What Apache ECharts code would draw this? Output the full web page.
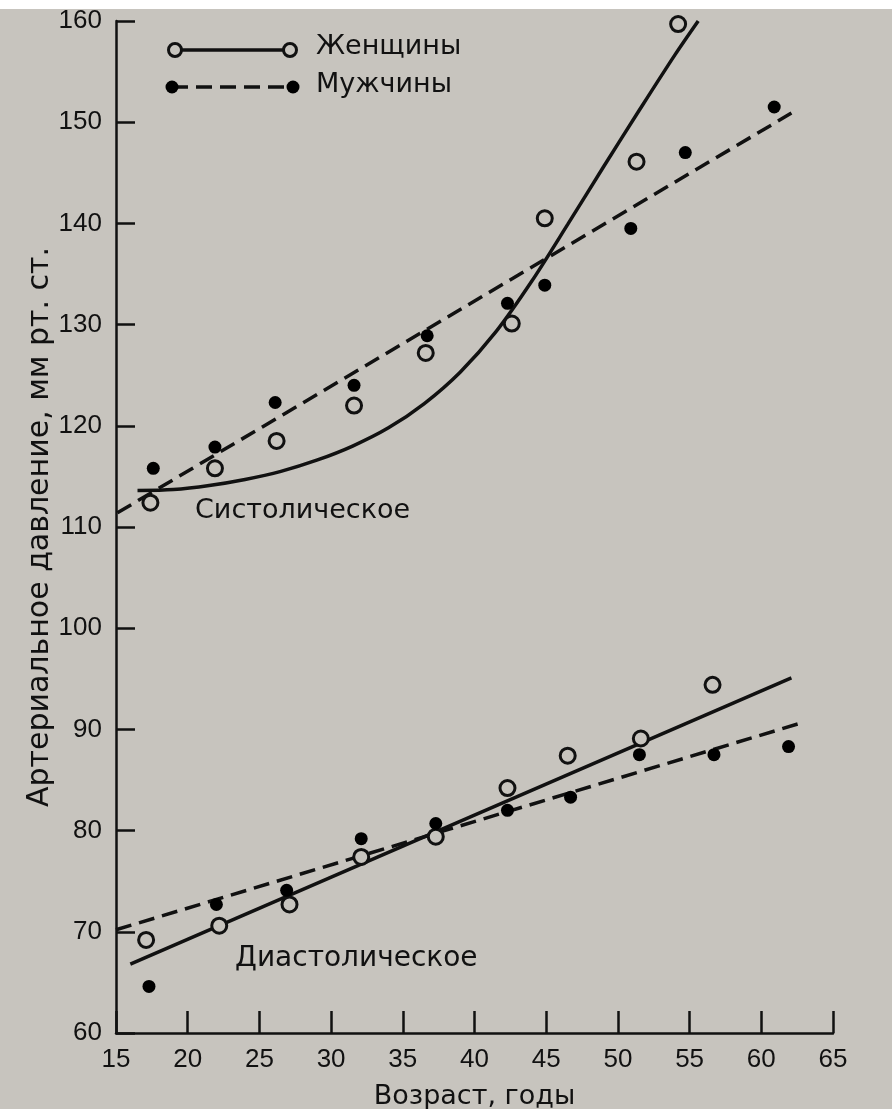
<!DOCTYPE html>
<html>
<head>
<meta charset="utf-8">
<script src="https://cdn.jsdelivr.net/npm/echarts@6/dist/echarts.min.js"></script>
<style>
html,body{margin:0;padding:0;background:#c7c4be;}
#chart{width:892px;height:1109px;}
</style>
</head>
<body>
<div id="chart"></div>
<script>
// ---- data ----
const xTicks = [15, 20, 25, 30, 35, 40, 45, 50, 55, 60, 65];
const yTicks = [60, 70, 80, 90, 100, 110, 120, 130, 140, 150, 160];

const legendWomen = 'Женщины';
const legendMen = 'Мужчины';
const labelSys = 'Систолическое';
const labelDia = 'Диастолическое';
const xTitle = 'Возраст, годы';
const yTitle = 'Артериальное давление, мм рт. ст.';

// systolic, observed points [age, mmHg]
const womenSys = [[17.4,112.4],[21.9,115.8],[26.2,118.5],[31.6,122.0],[36.6,127.2],[42.6,130.1],[44.9,140.5],[51.3,146.1],[54.2,159.7]];
const menSys = [[17.6,115.8],[21.9,117.9],[26.1,122.3],[31.6,124.0],[36.7,128.9],[42.3,132.1],[44.9,133.9],[50.9,139.5],[54.7,147.0],[60.9,151.5]];
// systolic fitted curves
const womenSysFit = [[16.5,113.6],[19,113.7],[21.5,114.1],[24,114.7],[26.5,115.5],[29,116.6],[31.5,118.0],[34,119.8],[36.5,122.2],[39,125.3],[41.5,129.3],[44,134.3],[46.5,139.9],[49,145.6],[51.5,151.2],[54,156.7],[55.6,160]];
const menSysFit = [[15.1,111.4],[62.1,150.9]];

// diastolic, observed points
const womenDia = [[17.1,69.2],[22.2,70.6],[27.1,72.7],[32.1,77.4],[37.3,79.4],[42.3,84.2],[46.5,87.4],[51.6,89.1],[56.6,94.4]];
const menDia = [[17.3,64.6],[22.0,72.7],[26.9,74.1],[32.1,79.2],[37.3,80.7],[42.3,82.0],[46.7,83.3],[51.5,87.5],[56.7,87.5],[61.9,88.3]];
// diastolic fitted lines
const womenDiaFit = [[16.0,66.8],[62.1,95.1]];
const menDiaFit = [[15.0,70.2],[62.7,90.6]];

// ---- styling ----
const BG = '#c7c4be';
const INK = '#111111';
const numFont = '"Liberation Sans", Arial, sans-serif';
const txtFont = '"DejaVu Sans", sans-serif';

function fitLine(name, data, dashed, smooth) {
  return {
    name: name, type: 'line', data: data, smooth: smooth ? 0.3 : false,
    showSymbol: false, symbol: 'none', silent: true, z: 2,
    lineStyle: { color: INK, width: 3.5, type: dashed ? [16, 8] : 'solid' }
  };
}
function pts(name, data, open) {
  return {
    name: name, type: 'scatter', data: data, z: 5,
    symbol: 'circle', symbolSize: open ? 15 : 13,
    itemStyle: open ? { color: BG, borderColor: INK, borderWidth: 3, opacity: 1 } : { color: '#000000', borderWidth: 0, opacity: 1 }
  };
}

const chart = echarts.init(document.getElementById('chart'), null, { renderer: 'canvas' });
const option = {
  backgroundColor: BG,
  animation: false,
  grid: { left: 116, right: 59, top: 21, bottom: 76, containLabel: false, outerBoundsMode: 'none' },
  xAxis: {
    type: 'value', min: xTicks[0], max: xTicks[xTicks.length - 1], interval: 5,
    name: xTitle, nameLocation: 'middle', nameGap: 50, nameMoveOverlap: false,
    nameTextStyle: { fontFamily: txtFont, fontSize: 27, color: INK },
    axisLine: { show: true, onZero: false, lineStyle: { color: INK, width: 2.5 } },
    axisTick: { show: true, inside: true, length: 22, lineStyle: { color: INK, width: 2.5 } },
    axisLabel: { fontFamily: numFont, fontSize: 26, color: INK, margin: 14 },
    splitLine: { show: false }
  },
  yAxis: {
    type: 'value', min: yTicks[0], max: yTicks[yTicks.length - 1], interval: 10,
    name: yTitle, nameLocation: 'middle', nameGap: 61, nameRotate: 90, nameMoveOverlap: false,
    nameTextStyle: { fontFamily: txtFont, fontSize: 30, color: INK },
    axisLine: { show: true, onZero: false, lineStyle: { color: INK, width: 2.5 } },
    axisTick: { show: true, inside: true, length: 19, lineStyle: { color: INK, width: 2.5 } },
    axisLabel: { fontFamily: numFont, fontSize: 26, color: INK, margin: 14 },
    splitLine: { show: false }
  },
  series: [
    fitLine('womenSysFit', womenSysFit, false, true),
    fitLine('menSysFit', menSysFit, true, false),
    fitLine('womenDiaFit', womenDiaFit, false, false),
    fitLine('menDiaFit', menDiaFit, true, false),
    pts(legendWomen + ' sys', womenSys, true),
    pts(legendMen + ' sys', menSys, false),
    pts(legendWomen + ' dia', womenDia, true),
    pts(legendMen + ' dia', menDia, false)
  ],
  graphic: [
    { type: 'rect', left: 0, top: 0, shape: { width: 892, height: 9 }, style: { fill: '#ffffff' }, silent: true },
    // legend: women
    { type: 'line', shape: { x1: 175, y1: 50, x2: 290, y2: 50 }, style: { stroke: INK, lineWidth: 3.5 }, z: 10 },
    { type: 'circle', shape: { cx: 175, cy: 50, r: 6.5 }, style: { fill: BG, stroke: INK, lineWidth: 3 }, z: 11 },
    { type: 'circle', shape: { cx: 290, cy: 50, r: 6.5 }, style: { fill: BG, stroke: INK, lineWidth: 3 }, z: 11 },
    { type: 'text', left: 316, top: 33, style: { text: legendWomen, font: '27px ' + txtFont, fill: INK }, z: 11 },
    // legend: men
    { type: 'line', shape: { x1: 172, y1: 87, x2: 293, y2: 87 }, style: { stroke: INK, lineWidth: 3.5, lineDash: [16, 8] }, z: 10 },
    { type: 'circle', shape: { cx: 172, cy: 87, r: 6.5 }, style: { fill: '#000000' }, z: 11 },
    { type: 'circle', shape: { cx: 293, cy: 87, r: 6.5 }, style: { fill: '#000000' }, z: 11 },
    { type: 'text', left: 316, top: 71, style: { text: legendMen, font: '27px ' + txtFont, fill: INK }, z: 11 },
    // curve labels
    { type: 'text', left: 195, top: 497, style: { text: labelSys, font: '27px ' + txtFont, fill: INK }, z: 11 },
    { type: 'text', left: 235, top: 945, style: { text: labelDia, font: '28px ' + txtFont, fill: INK }, z: 11 }
  ]
};
chart.setOption(option);
</script>
</body>
</html>
